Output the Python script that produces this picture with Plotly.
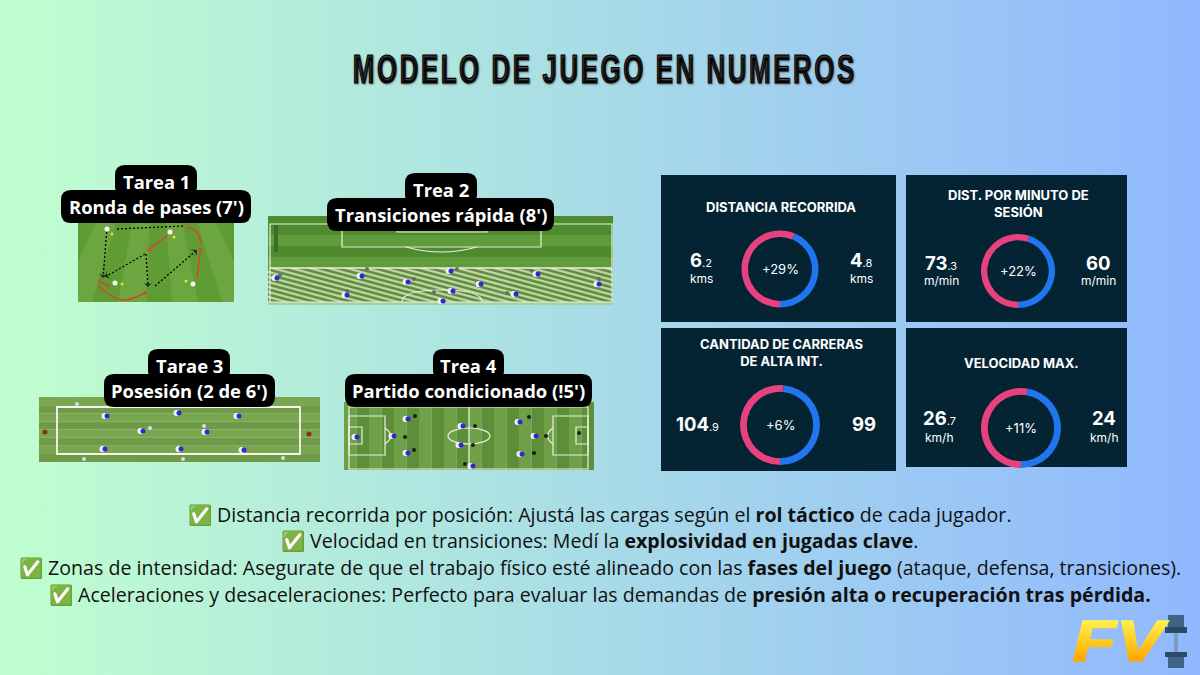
"""
Modelo de juego en numeros - infographic rebuilt with plotly
"""

import base64
import plotly.graph_objects as go

W, H = 1200, 675

TITLE = 'MODELO DE JUEGO EN NUMEROS'

# tasks (badge texts)
TASK_NAMES = ['Tarea 1', 'Trea 2', 'Tarae 3', 'Trea 4']
TASK_DETAILS = ["Ronda de pases (7')", "Transiciones rápida (8')", "Posesión (2 de 6')", "Partido condicionado (!5')"]

# cards
CARD_TITLES = ['DISTANCIA RECORRIDA', 'DIST. POR MINUTO DE<br>SESIÓN', 'CANTIDAD DE CARRERAS<br>DE ALTA INT.', 'VELOCIDAD MAX.']
LEFT_VALUES = [6.2, 73.3, 104.9, 26.7]
RIGHT_VALUES = [4.8, 60, 99, 24]
PCT_LABELS = ['+29%', '+22%', '+6%', '+11%']
UNITS = ['kms', 'm/min', '', 'km/h']

BULLETS = [
    '✅ Distancia recorrida por posición: Ajustá las cargas según el <b>rol táctico</b> de cada jugador.',
    '✅ Velocidad en transiciones: Medí la <b>explosividad en jugadas clave</b>.',
    '✅ Zonas de intensidad: Asegurate de que el trabajo físico esté alineado con las <b>fases del juego</b> (ataque, defensa, transiciones).',
    '✅ Aceleraciones y desaceleraciones: Perfecto para evaluar las demandas de <b>presión alta o recuperación tras pérdida.</b>',
]

# player spots on the drills
P1_WHITE_X = [115, 193, 170, 107]
P1_WHITE_Y = [283, 284, 232, 229]
P1_YELLOW_X = [122, 186, 174, 112]
P1_YELLOW_Y = [284, 281, 237, 234]

P2_BLUE_X = [277, 362, 408, 451, 481, 538, 599, 347, 453, 443, 516]
P2_BLUE_Y = [278, 276, 282, 271, 284, 274, 284, 295, 291, 301, 294]
P2_DARK_X = [280, 367, 414, 457, 477, 532, 599, 347, 434, 507]
P2_DARK_Y = [275, 269, 279, 269, 282, 271, 279, 291, 292, 293]

P3_BLUE_X = [107, 179, 239, 143, 207, 105, 181, 244]
P3_BLUE_Y = [416, 413, 416, 431, 432, 449, 449, 450]
P3_DARK_X = [77, 150, 204, 84, 183, 283]
P3_DARK_Y = [404, 428, 426, 459, 459, 458]
P3_RED_X = [45, 309]
P3_RED_Y = [432, 434]

P4_BLUE_X = [357, 408, 394, 408, 463, 461, 473, 520, 536, 522]
P4_BLUE_Y = [437, 419, 436, 453, 426, 445, 466, 422, 436, 454]
P4_DARK_X = [415, 405, 414, 475, 473, 465, 529, 546, 534, 579]
P4_DARK_Y = [416, 437, 450, 426, 445, 464, 417, 436, 453, 433]

CARD_BG = '#052433'
PINK = '#e8417f'
BLUE = '#2176f0'


def round_rect(x0, y0, x1, y1, r):
    return (f'M{x0 + r},{y0} L{x1 - r},{y0} Q{x1},{y0} {x1},{y0 + r} L{x1},{y1 - r} '
            f'Q{x1},{y1} {x1 - r},{y1} L{x0 + r},{y1} Q{x0},{y1} {x0},{y1 - r} '
            f'L{x0},{y0 + r} Q{x0},{y0} {x0 + r},{y0} Z')


def rect(x0, y0, x1, y1, fill, layer='below'):
    return dict(type='rect', x0=x0, y0=y0, x1=x1, y1=y1, fillcolor=fill, line_width=0, layer=layer)


def outline(x0, y0, x1, y1, width=1.2, color='#e8efe0', kind='rect'):
    return dict(type=kind, x0=x0, y0=y0, x1=x1, y1=y1, line=dict(color=color, width=width), layer='below')


def h_stripes(x0, x1, y0, y1, n, c1, c2):
    step = (y1 - y0) / n
    return [rect(x0, y0 + i * step, x1, y0 + (i + 1) * step, c1 if i % 2 else c2) for i in range(n)]


def v_stripes(x0, x1, y0, y1, n, c1, c2):
    step = (x1 - x0) / n
    return [rect(x0 + i * step, y0, x0 + (i + 1) * step, y1, c1 if i % 2 else c2) for i in range(n)]


def clip_x(pts, lo, hi):
    # cut a polygon to the band lo <= x <= hi
    for bound, keep in ((lo, lambda p: p[0] >= lo), (hi, lambda p: p[0] <= hi)):
        out = []
        for a, b in zip(pts, pts[1:] + pts[:1]):
            if keep(a):
                out.append(a)
            if keep(a) != keep(b):
                t = (bound - a[0]) / (b[0] - a[0])
                out.append((bound, a[1] + t * (b[1] - a[1])))
        pts = out
        if not pts:
            break
    return pts


def poly_path(pts):
    return 'M' + ' L'.join(f'{x:.1f},{y:.1f}' for x, y in pts) + ' Z'


shapes = []

# --- drill 1: fan of radial stripes
shapes.append(rect(78, 200, 234, 302, '#5f9c33'))
vx, vy = 156, 90
for bl, br in [(60, 92), (118, 146), (172, 198), (222, 252)]:
    k = (200 - vy) / (302 - vy)
    tl, tr = vx + (bl - vx) * k, vx + (br - vx) * k
    pts = clip_x([(tl, 200), (tr, 200), (br, 302), (bl, 302)], 78, 234)
    shapes.append(dict(type='path', path=poly_path(pts), fillcolor='#6ba640', line_width=0, layer='below'))

# --- drill 2: half pitch on top, diagonal stripes below
shapes.append(rect(268, 216, 613, 224, '#4f8a2e'))
shapes += h_stripes(268, 613, 224, 268, 4, '#619c3a', '#4f8a2e')
shapes.append(rect(268, 268, 613, 305, '#5f913d'))
drop = 137
for i in range(-9, 20):
    x0 = 268 + i * 18.5
    pts = clip_x([(x0, 268), (x0 + 8.5, 268), (x0 + 8.5 + drop, 305), (x0 + drop, 305)], 268, 613)
    if pts:
        shapes.append(dict(type='path', path=poly_path(pts), fillcolor='#c0d4aa', line_width=0, layer='below'))
shapes.append(rect(268, 302, 613, 305, '#a6d0a4'))
shapes.append(outline(270, 224, 612, 302))
shapes.append(dict(type='line', x0=270, y0=268, x1=612, y1=268, line=dict(color='#e8efe0', width=1.5), layer='below'))
shapes.append(outline(342, 224, 541, 247))
shapes.append(outline(397, 224, 487, 232))
shapes.append(dict(type='path', path='M406,247 Q441,257 477,247', line=dict(color='#e8efe0', width=1.2), layer='below'))
shapes.append(dict(type='path', path='M402,302 Q402,290 442,290 Q482,290 482,302', line=dict(color='#e8efe0', width=1.2), layer='below'))
shapes.append(rect(274, 225, 278, 252, '#3d6b2a'))

# --- drill 3: long possession grid
shapes += h_stripes(39, 320, 397, 462, 8, '#6f9a47', '#7ba650')
shapes.append(outline(57, 407, 300, 454, width=1.8, color='#f4f6ee'))

# --- drill 4: full pitch
shapes += v_stripes(344, 594, 402, 470, 20, '#5c8f38', '#6fa048')
shapes.append(outline(349, 407, 588, 469))
shapes.append(dict(type='line', x0=469, y0=407, x1=469, y1=469, line=dict(color='#e8efe0', width=1.3), layer='below'))
shapes.append(outline(448, 428, 490, 444, kind='circle'))
shapes.append(outline(349, 416, 385, 455))
shapes.append(outline(349, 427, 362, 444))
shapes.append(outline(553, 416, 588, 455))
shapes.append(outline(576, 427, 588, 444))
shapes.append(dict(type='path', path='M385,428 Q396,436 385,444', line=dict(color='#e8efe0', width=1.2), layer='below'))
shapes.append(dict(type='path', path='M553,428 Q542,436 553,444', line=dict(color='#e8efe0', width=1.2), layer='below'))

# --- badges
BADGES = [
    ((115, 165, 197, 197), (61, 190, 251, 223)),
    ((405, 173, 477, 205), (327, 198, 554, 231)),
    ((148, 349, 230, 381), (104, 374, 275, 407)),
    ((433, 349, 504, 381), (345, 374, 592, 407)),
]
for up, low in BADGES:
    for box in (up, low):
        shapes.append(dict(type='path', path=round_rect(*box, 10), fillcolor='black', line_width=0, layer='above'))

# --- cards
CARDS = [(661, 175, 896, 322), (906, 175, 1127, 322), (661, 328, 896, 471), (906, 328, 1127, 467)]
for box in CARDS:
    shapes.append(rect(*box, CARD_BG))

# --- dumbbell of the logo
shapes.append(rect(1174, 630, 1178, 655, '#7f9dbb'))
for box, col in [((1168, 615, 1184, 627), '#3e6484'), ((1165, 627, 1187, 633), '#2b4a66'),
                 ((1165, 652, 1187, 657), '#2b4a66'), ((1168, 657, 1184, 668), '#3e6484')]:
    shapes.append(rect(*box, col))

fig = go.Figure()


def add_players(xs, ys, body, offset=True, size=5):
    if offset:
        fig.add_trace(go.Scatter(x=[v - 2.5 for v in xs], y=ys, mode='markers',
                                 marker=dict(color='#f4f0f4', size=size + 1, line_width=0), hoverinfo='skip'))
    fig.add_trace(go.Scatter(x=xs, y=ys, mode='markers',
                             marker=dict(color=body, size=size, line_width=0), hoverinfo='skip'))


def add_run(xs, ys, color, dash='solid', width=1.3, smooth=False, head=True):
    head_size = 7 if head else 0
    fig.add_trace(go.Scatter(
        x=xs, y=ys, mode='lines+markers',
        line=dict(color=color, width=width, dash=dash, shape='spline' if smooth else 'linear'),
        marker=dict(symbol=['circle'] * (len(xs) - 1) + ['arrow-wide'], angleref='previous', color=color,
                    size=[0] * (len(xs) - 1) + [head_size], line=dict(width=0, color=color)),
        hoverinfo='skip'))


# passes and runs of drill 1
add_run([117, 183], [229, 226], 'black', dash='2px,2px', head=False)
add_run([107, 103], [228, 278], 'black', dash='2px,2px')
add_run([145, 105], [254, 277], 'black', dash='2px,2px')
add_run([146, 148], [254, 287], 'black', dash='2px,2px')
add_run([155, 197], [286, 250], 'black', dash='2px,2px')
add_run([168, 147], [235, 251], '#d8452a', width=1.5)
add_run([186, 197, 201], [227, 232, 245], '#d8452a', width=1.5, smooth=True, head=False)
add_run([197, 201], [278, 247], '#d8452a', width=1.5)
add_run([110, 98], [287, 280], '#d8452a', width=1.5)
add_run([98, 122, 147], [286, 300, 292], '#d8452a', width=1.5, smooth=True)

add_players(P1_WHITE_X, P1_WHITE_Y, '#f5f5f5', offset=False)
add_players(P1_YELLOW_X, P1_YELLOW_Y, '#e8e040', offset=False, size=3)
add_players(P2_DARK_X, P2_DARK_Y, '#6b6b6b', offset=False, size=4)
add_players(P2_BLUE_X, P2_BLUE_Y, '#3028d8')
add_players(P3_DARK_X, P3_DARK_Y, '#dddddd', offset=False, size=4)
add_players(P3_BLUE_X, P3_BLUE_Y, '#3028d8')
add_players(P3_RED_X, P3_RED_Y, '#8e2a18', offset=False)
add_players(P4_DARK_X, P4_DARK_Y, '#1a1a1a', offset=False, size=4)
add_players(P4_BLUE_X, P4_BLUE_Y, '#3028d8')

# --- rings
RINGS = [(780, 269, 38.5), (1018, 271, 37), (780, 425, 40), (1021, 428, 40)]
for (cx, cy, r), left, right in zip(RINGS, LEFT_VALUES, RIGHT_VALUES):
    fig.add_trace(go.Pie(
        values=[left, right], hole=0.83, rotation=180, direction='clockwise', sort=False,
        marker=dict(colors=[PINK, BLUE], line_width=0), textinfo='none', hoverinfo='skip',
        showlegend=False,
        domain=dict(x=[(cx - r) / W, (cx + r) / W], y=[1 - (cy + r) / H, 1 - (cy - r) / H]),
    ))

annotations = []


def add_text(x, y, text, size, color='black', family='Open Sans', yanchor='middle', **font_extra):
    annotations.append(dict(x=x, y=y, text=text, showarrow=False, xanchor='center', yanchor=yanchor,
                            font=dict(size=size, color=color, family=family, **font_extra)))


def value_text(v, big):
    whole, _, dec = str(v).partition('.')
    small = f'<span style="font-size:{big * 0.62:.0f}px;font-weight:400">.{dec}</span>' if dec else ''
    return f'<b>{whole}</b>{small}'


add_text(605, 68.5, f'<b>{TITLE}</b>', 40, family='Liberation Sans', shadow='1px 1px 2px #777')

BADGE_TEXT_X = [156, 441, 189, 468]
BADGE_Y = [(181.5, 206.5), (189.5, 214.5), (365.5, 390.5), (365.5, 390.5)]
for name, det, x, (y1, y2) in zip(TASK_NAMES, TASK_DETAILS, BADGE_TEXT_X, BADGE_Y):
    add_text(x, y1, f'<b>{name}</b>', 18.4, color='white')
    add_text(x, y2, f'<b>{det}</b>', 18.4, color='white')

CARD_TITLE_Y = [207, 203.5, 352, 363]
VALUE_X = [(701, 861), (941, 1098), (697, 864), (939, 1104)]
VALUE_Y = [260, 263, 424, 418]
UNIT_Y = [278, 280, 0, 437]
CARD_CX = [781, 1018, 781, 1021]
for i in range(4):
    add_text(CARD_CX[i], CARD_TITLE_Y[i], f'<b>{CARD_TITLES[i]}</b>', 13, color='white', family='Inter')
    add_text(RINGS[i][0], RINGS[i][1], PCT_LABELS[i], 13, color='white', family='Inter')
    for vx_, val in zip(VALUE_X[i], (LEFT_VALUES[i], RIGHT_VALUES[i])):
        add_text(vx_, VALUE_Y[i], value_text(val, 18.5), 18.5, color='white', family='Inter')
        if UNITS[i]:
            add_text(vx_, UNIT_Y[i], UNITS[i], 12, color='white', family='Inter')

BULLET_Y = [514, 540, 567, 594]
for y, line in zip(BULLET_Y, BULLETS):
    add_text(600, y, line, 19.6, color='#111111')

# logo
add_text(1119.5, 675, '<b><i>FV</i></b>', 58, color='#ffc81e', family='Liberation Sans', yanchor='bottom')

# background gradient as an svg picture
svg = (f'<svg xmlns="http://www.w3.org/2000/svg" width="{W}" height="{H}"><defs>'
       '<linearGradient id="g" x1="0" y1="0" x2="1" y2="0">'
       '<stop offset="0" stop-color="#c0ffcf"/><stop offset="1" stop-color="#90b8ff"/>'
       f'</linearGradient></defs><rect width="{W}" height="{H}" fill="url(#g)"/></svg>')
bg_source = 'data:image/svg+xml;base64,' + base64.b64encode(svg.encode()).decode()

fig.update_layout(
    width=W, height=H,
    margin=dict(l=0, r=0, t=0, b=0),
    showlegend=False,
    paper_bgcolor='#a8d8e8',
    plot_bgcolor='rgba(0,0,0,0)',
    xaxis=dict(range=[0, W], visible=False, fixedrange=True),
    yaxis=dict(range=[H, 0], visible=False, fixedrange=True),
    shapes=shapes,
    annotations=annotations,
    images=[dict(source=bg_source, xref='paper', yref='paper', x=0, y=1, sizex=1, sizey=1,
                 sizing='stretch', layer='below', xanchor='left', yanchor='top')],
)

# squeeze the title and the logo to their width, yellow fade on the logo
POST_JS = """
document.body.style.margin = '0';
var defs = document.querySelector('svg.main-svg defs');
var grad = document.createElementNS('http://www.w3.org/2000/svg', 'linearGradient');
grad.id = 'fvgrad';
grad.setAttribute('x1', '0'); grad.setAttribute('y1', '0');
grad.setAttribute('x2', '0'); grad.setAttribute('y2', '1');
[['0.2', '#fff04a'], ['0.8', '#ffa800']].forEach(function (s) {
    var st = document.createElementNS('http://www.w3.org/2000/svg', 'stop');
    st.setAttribute('offset', s[0]); st.setAttribute('stop-color', s[1]);
    grad.appendChild(st);
});
defs.appendChild(grad);
document.querySelectorAll('text.annotation-text').forEach(function (t) {
    if (t.textContent.indexOf('MODELO') === 0) {
        t.style.letterSpacing = '4px';
        t.style.stroke = 'black';
        t.style.strokeWidth = '1.2px';
        t.setAttribute('textLength', '504');
        t.setAttribute('lengthAdjust', 'spacingAndGlyphs');
    }
    if (t.textContent === 'FV') {
        t.setAttribute('textLength', '91');
        t.setAttribute('lengthAdjust', 'spacingAndGlyphs');
        t.style.fill = 'url(#fvgrad)';
        t.style.stroke = 'url(#fvgrad)';
        t.style.strokeWidth = '1.5px';
    }
});
"""

fig.write_html('out.html', post_script=POST_JS, config={'displayModeBar': False})
